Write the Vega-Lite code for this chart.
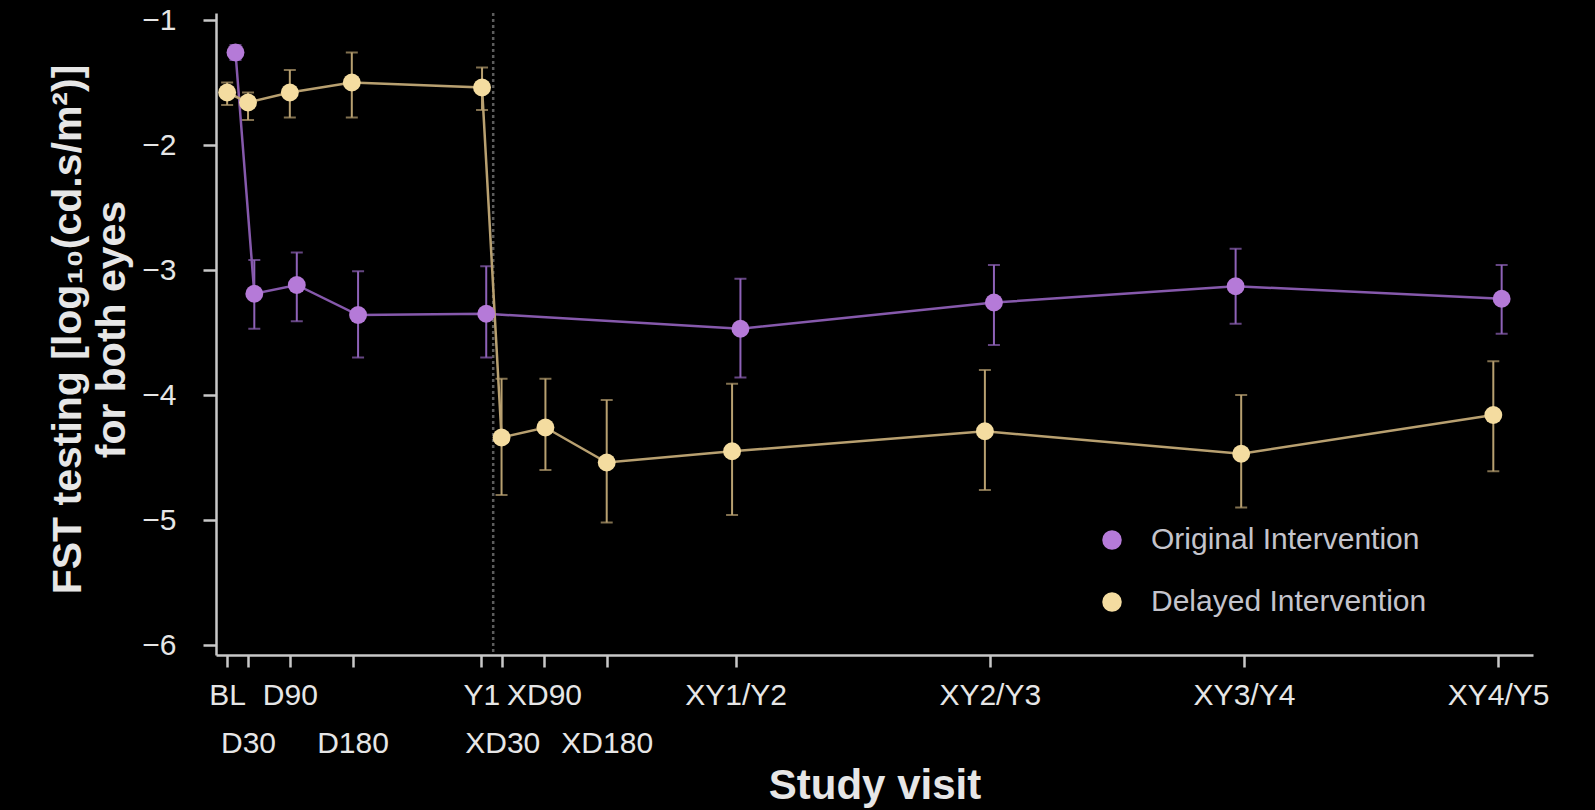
{
  "$schema": "https://vega.github.io/schema/vega-lite/v6.json",
  "width": 1317,
  "height": 642,
  "autosize": {"type": "none"},
  "padding": {"left": 216, "top": 13, "right": 62, "bottom": 155},
  "background": "#000000",
  "config": {
    "view": {"stroke": null},
    "font": "Liberation Sans",
    "axis": {
      "grid": false,
      "domainColor": "#c8c8c8",
      "domainWidth": 2.5,
      "tickColor": "#c8c8c8",
      "tickWidth": 2.5,
      "labelColor": "#e6e6e6",
      "labelFont": "Liberation Sans",
      "labelFontSize": 30,
      "titleColor": "#e6e6e6",
      "titleFont": "Liberation Sans",
      "titleFontWeight": "bold"
    }
  },
  "datasets": {
    "visits": [
      {"group": "Original Intervention", "visit": "BL", "day": 12, "mean": -1.26, "lo": -1.32, "hi": -1.2},
      {"group": "Original Intervention", "visit": "D30", "day": 39, "mean": -3.19, "lo": -3.47, "hi": -2.92},
      {"group": "Original Intervention", "visit": "D90", "day": 100, "mean": -3.12, "lo": -3.41, "hi": -2.86},
      {"group": "Original Intervention", "visit": "D180", "day": 188, "mean": -3.36, "lo": -3.7, "hi": -3.01},
      {"group": "Original Intervention", "visit": "Y1", "day": 372, "mean": -3.35, "lo": -3.7, "hi": -2.97},
      {"group": "Original Intervention", "visit": "XY1/Y2", "day": 737, "mean": -3.47, "lo": -3.86, "hi": -3.07},
      {"group": "Original Intervention", "visit": "XY2/Y3", "day": 1101, "mean": -3.26, "lo": -3.6, "hi": -2.96},
      {"group": "Original Intervention", "visit": "XY3/Y4", "day": 1448, "mean": -3.13, "lo": -3.43, "hi": -2.83},
      {"group": "Original Intervention", "visit": "XY4/Y5", "day": 1830, "mean": -3.23, "lo": -3.51, "hi": -2.96},
      {"group": "Delayed Intervention", "visit": "BL", "day": 0, "mean": -1.58, "lo": -1.68, "hi": -1.5},
      {"group": "Delayed Intervention", "visit": "D30", "day": 30, "mean": -1.66, "lo": -1.8, "hi": -1.58},
      {"group": "Delayed Intervention", "visit": "D90", "day": 90, "mean": -1.58, "lo": -1.78, "hi": -1.4},
      {"group": "Delayed Intervention", "visit": "D180", "day": 179, "mean": -1.5, "lo": -1.78, "hi": -1.26},
      {"group": "Delayed Intervention", "visit": "Y1", "day": 366, "mean": -1.54, "lo": -1.72, "hi": -1.38},
      {"group": "Delayed Intervention", "visit": "XD30", "day": 394, "mean": -4.34, "lo": -4.8, "hi": -3.87},
      {"group": "Delayed Intervention", "visit": "XD90", "day": 457, "mean": -4.26, "lo": -4.6, "hi": -3.87},
      {"group": "Delayed Intervention", "visit": "XD180", "day": 545, "mean": -4.54, "lo": -5.02, "hi": -4.04},
      {"group": "Delayed Intervention", "visit": "XY1/Y2", "day": 725, "mean": -4.45, "lo": -4.96, "hi": -3.91},
      {"group": "Delayed Intervention", "visit": "XY2/Y3", "day": 1088, "mean": -4.29, "lo": -4.76, "hi": -3.8},
      {"group": "Delayed Intervention", "visit": "XY3/Y4", "day": 1456, "mean": -4.47, "lo": -4.9, "hi": -4.0},
      {"group": "Delayed Intervention", "visit": "XY4/Y5", "day": 1818, "mean": -4.16, "lo": -4.61, "hi": -3.73}
    ],
    "refline": [{"day": 382}]
  },
  "data": {"name": "visits"},
  "encoding": {
    "x": {
      "field": "day",
      "type": "quantitative",
      "scale": {"domain": [-16, 1875], "nice": false, "zero": false},
      "axis": {
        "title": "Study visit",
        "titleFontSize": 42,
        "titleY": 143,
        "titleBaseline": "alphabetic",
        "values": [0, 30, 90, 180, 365, 395, 455, 545, 730, 1095, 1460, 1825],
        "labelExpr": "datum.value == 0 ? 'BL' : datum.value == 30 ? ['', 'D30'] : datum.value == 90 ? 'D90' : datum.value == 180 ? ['', 'D180'] : datum.value == 365 ? 'Y1' : datum.value == 395 ? ['', 'XD30'] : datum.value == 455 ? 'XD90' : datum.value == 545 ? ['', 'XD180'] : datum.value == 730 ? 'XY1/Y2' : datum.value == 1095 ? 'XY2/Y3' : datum.value == 1460 ? 'XY3/Y4' : 'XY4/Y5'",
        "labelLineHeight": 48,
        "labelPadding": 13,
        "tickSize": 12,
        "labelOverlap": false,
        "labelFlush": false,
        "labelBound": false
      }
    },
    "y": {
      "field": "mean",
      "type": "quantitative",
      "scale": {"domain": [-6.08, -0.944], "nice": false, "zero": false},
      "axis": {
        "title": ["FST testing [log₁₀(cd.s/m²)]", "for both eyes"],
        "titleFontSize": 41,
        "titleLineHeight": 44,
        "titleAngle": 270,
        "titleX": -148,
        "titleY": 316,
        "titleAlign": "center",
        "titleBaseline": "middle",
        "values": [-6, -5, -4, -3, -2, -1],
        "format": "d",
        "tickSize": 13,
        "labelPadding": 27
      }
    }
  },
  "layer": [
    {
      "data": {"name": "refline"},
      "mark": {"type": "rule", "color": "#5c5c5c", "strokeWidth": 2.5, "strokeDash": [3, 3]},
      "encoding": {"x": {"field": "day", "type": "quantitative"}, "y": null}
    },
    {
      "transform": [{"filter": "datum.group == 'Original Intervention'"}],
      "mark": {"type": "errorbar", "color": "#8e62b8", "thickness": 2, "ticks": {"size": 12, "thickness": 2, "color": "#8e62b8"}},
      "encoding": {
        "y": {"field": "lo", "type": "quantitative"},
        "y2": {"field": "hi"}
      }
    },
    {
      "transform": [{"filter": "datum.group == 'Delayed Intervention'"}],
      "mark": {"type": "errorbar", "color": "#b8a070", "thickness": 2, "ticks": {"size": 12, "thickness": 2, "color": "#b8a070"}},
      "encoding": {
        "y": {"field": "lo", "type": "quantitative"},
        "y2": {"field": "hi"}
      }
    },
    {
      "transform": [{"filter": "datum.group == 'Original Intervention'"}],
      "mark": {"type": "line", "strokeWidth": 2.5, "color": "#8659ac"}
    },
    {
      "transform": [{"filter": "datum.group == 'Delayed Intervention'"}],
      "mark": {"type": "line", "strokeWidth": 2.5, "color": "#b8a070"}
    },
    {
      "mark": {"type": "circle", "size": 320, "opacity": 1},
      "encoding": {
        "color": {"field": "group", "type": "nominal",
          "scale": {"domain": ["Original Intervention", "Delayed Intervention"], "range": ["#b57ad8", "#f4dca0"]},
          "legend": {
            "title": null,
            "orient": "none",
            "legendX": 881,
            "legendY": 512,
            "labelFont": "Liberation Sans",
            "labelFontSize": 30,
            "labelColor": "#c4c4cc",
            "labelLimit": 500,
            "symbolSize": 380,
            "symbolStrokeWidth": 0,
            "symbolType": "circle",
            "rowPadding": 32,
            "labelOffset": 24,
            "padding": 0
          }}
      }
    }
  ]
}
